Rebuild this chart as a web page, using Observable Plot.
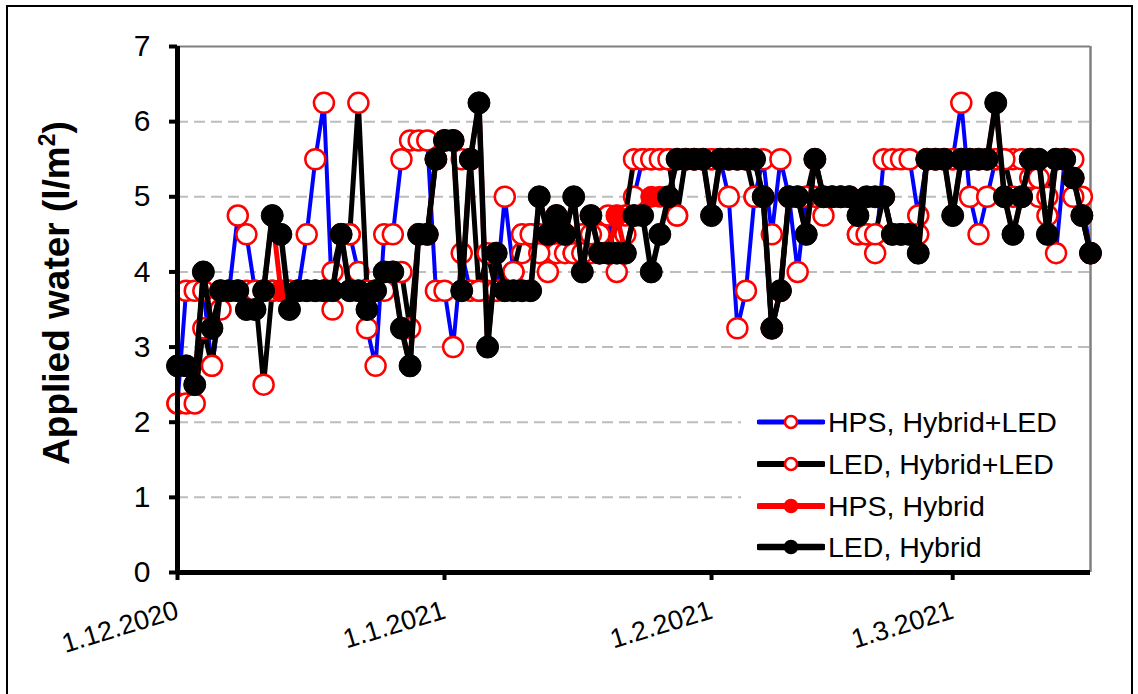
<!DOCTYPE html>
<html>
<head>
<meta charset="utf-8">
<script src="https://cdn.jsdelivr.net/npm/d3@7"></script>
<script src="https://cdn.jsdelivr.net/npm/@observablehq/plot@0.6"></script>
<style>
  body { margin: 0; padding: 0; background: #fff; font-family: "Liberation Sans", Arial, sans-serif; }
  .chart { position: relative; width: 1138px; height: 694px; overflow: hidden; }
  .outline { position: absolute; left: 6px; top: 5px; width: 1127px; height: 720px; border: 2px solid #000; box-sizing: border-box; pointer-events: none; }
  .ylabel { position: absolute; left: 56px; top: 293px; transform: translate(-50%, -50%) rotate(-90deg); white-space: nowrap; font-weight: bold; font-size: 37px; color: #000; }
  .ylabel sup { font-size: 23px; }
  .legend { position: absolute; left: 741px; top: 400px; width: 348px; height: 170px; background: #fff; }
  .legend .row { position: absolute; left: 16px; height: 34px; display: flex; align-items: center; font-size: 28.5px; color: #000; white-space: nowrap; }
  .legend svg { margin-right: 3px; }
</style>
</head>
<body>
<div class="chart" id="chart">
  <div class="outline"></div>
  <div class="ylabel">Applied water (l/m<sup>2</sup>)</div>
  <div class="legend" id="legend"></div>
</div>
<script>
  // daily irrigation, 1.12.2020 - 17.3.2021 (one value per day)
  const hpsHybridLed = [
    2.25, 3.75, 3.75, 3.75, 2.75, 3.5, 3.75, 4.75, 4.5, 3.75,
    3.75, 3.75, 3.75, 3.75, 3.75, 4.5, 5.5, 6.25, 3.5, 4.5,
    4.5, 4.0, 3.25, 2.75, 4.5, 4.5, 5.5, 5.75, 5.75, 5.75,
    3.75, 3.75, 3.0, 4.25, 3.75, 3.75, 3.75, 3.75, 5.0, 4.0,
    4.25, 4.5, 4.5, 4.0, 4.25, 4.25, 4.25, 4.5, 4.25, 4.5,
    4.75, 4.0, 4.5, 5.0, 5.5, 5.5, 5.5, 5.5, 4.75, 5.5,
    5.5, 5.5, 5.5, 5.5, 5.0, 3.25, 3.75, 5.0, 5.5, 4.5,
    5.5, 5.0, 4.0, 5.0, 5.0, 4.75, 5.0, 5.0, 5.0, 4.5,
    4.5, 4.25, 5.5, 5.5, 5.5, 5.5, 4.75, 5.5, 5.5, 5.5,
    5.5, 6.25, 5.0, 4.5, 5.0, 5.5, 5.5, 5.5, 5.5, 5.25,
    5.0, 4.75, 4.25, 5.5, 5.5, 5.0, 4.25
  ]
  const ledHybridLed = [
    2.25, 2.25, 2.25, 3.25, 2.75, 3.75, 3.75, 3.75, 3.75, 3.75,
    2.5, 3.75, 3.75, 3.75, 3.75, 3.75, 3.75, 3.75, 4.0, 4.5,
    4.5, 6.25, 3.75, 3.75, 3.75, 4.0, 4.0, 3.25, 4.5, 4.5,
    5.5, 5.75, 5.75, 5.5, 5.5, 3.75, 4.25, 3.75, 3.75, 4.0,
    4.5, 4.5, 4.25, 4.5, 4.75, 4.5, 4.25, 4.25, 4.5, 4.25,
    4.25, 4.75, 4.75, 5.5, 5.5, 5.5, 5.5, 5.5, 4.75, 5.5,
    5.5, 5.5, 5.5, 5.5, 5.5, 5.5, 5.5, 5.0, 5.0, 3.25,
    3.75, 5.0, 5.0, 5.0, 5.5, 5.0, 5.0, 5.0, 5.0, 4.5,
    4.5, 4.5, 5.0, 4.5, 4.5, 4.5, 4.5, 5.5, 5.5, 5.5,
    5.5, 5.5, 5.5, 5.5, 5.5, 5.5, 5.5, 5.0, 5.0, 5.5,
    5.25, 5.0, 5.5, 5.5, 5.0, 4.75, 4.25
  ]
  const hpsHybrid = [
    2.75, 2.75, 2.5, 4.0, 3.25, 3.75, 3.75, 3.75, 3.5, 3.5,
    3.75, 4.75, 3.75, 3.5, 3.75, 3.75, 3.75, 3.75, 3.75, 4.5,
    3.75, 3.75, 3.5, 3.75, 4.0, 4.0, 3.25, 2.75, 4.5, 4.5,
    5.5, 5.75, 5.75, 3.75, 5.5, 6.25, 3.0, 4.25, 3.75, 3.75,
    3.75, 3.75, 5.0, 4.5, 4.75, 4.5, 5.0, 4.0, 4.75, 4.25,
    4.25, 4.75, 4.25, 4.75, 4.75, 5.0, 5.0, 5.0, 5.5, 5.5,
    5.5, 5.5, 4.75, 5.5, 5.5, 5.5, 5.5, 5.5, 5.0, 3.25,
    3.75, 5.0, 5.0, 4.5, 5.5, 5.0, 5.0, 5.0, 5.0, 4.75,
    5.0, 5.0, 5.0, 4.5, 4.5, 4.5, 4.25, 5.5, 5.5, 5.5,
    4.75, 5.5, 5.5, 5.5, 5.5, 6.25, 5.0, 4.5, 5.0, 5.5,
    5.5, 4.5, 5.5, 5.5, 5.25, 4.75, 4.25
  ]
  const ledHybrid = [
    2.75, 2.75, 2.5, 4.0, 3.25, 3.75, 3.75, 3.75, 3.5, 3.5,
    3.75, 4.75, 4.5, 3.5, 3.75, 3.75, 3.75, 3.75, 3.75, 4.5,
    3.75, 3.75, 3.5, 3.75, 4.0, 4.0, 3.25, 2.75, 4.5, 4.5,
    5.5, 5.75, 5.75, 3.75, 5.5, 6.25, 3.0, 4.25, 3.75, 3.75,
    3.75, 3.75, 5.0, 4.5, 4.75, 4.5, 5.0, 4.0, 4.75, 4.25,
    4.25, 4.25, 4.25, 4.75, 4.75, 4.0, 4.5, 5.0, 5.5, 5.5,
    5.5, 5.5, 4.75, 5.5, 5.5, 5.5, 5.5, 5.5, 5.0, 3.25,
    3.75, 5.0, 5.0, 4.5, 5.5, 5.0, 5.0, 5.0, 5.0, 4.75,
    5.0, 5.0, 5.0, 4.5, 4.5, 4.5, 4.25, 5.5, 5.5, 5.5,
    4.75, 5.5, 5.5, 5.5, 5.5, 6.25, 5.0, 4.5, 5.0, 5.5,
    5.5, 4.5, 5.5, 5.5, 5.25, 4.75, 4.25
  ]

  const seriesNames = ["HPS, Hybrid+LED", "LED, Hybrid+LED", "HPS, Hybrid", "LED, Hybrid"]
  const monthTicks = ["2020-12-01", "2021-01-01", "2021-02-01", "2021-03-01"].map(d => new Date(d))
  const yTicks = [0, 1, 2, 3, 4, 5, 6, 7]
  const gridLines = [1, 2, 3, 4, 5, 6]

  const start = new Date("2020-12-01")
  const end = new Date("2021-03-17")
  const days = d3.utcDay.range(start, d3.utcDay.offset(end, 1))

  // how each series looks (line colour, marker)
  const looks = [
    {values: hpsHybridLed, line: "#0000ff", lw: 4, fill: "#ffffff", stroke: "#ff0000", r: 10, sw: 2.5, lr: 6},
    {values: ledHybridLed, line: "#000000", lw: 5, fill: "#ffffff", stroke: "#ff0000", r: 10, sw: 2.5, lr: 6},
    {values: hpsHybrid,    line: "#ff0000", lw: 5, fill: "#ff0000", stroke: "#ff0000", r: 10.5, sw: 1, lr: 6},
    {values: ledHybrid,    line: "#000000", lw: 5.5, fill: "#000000", stroke: "#000000", r: 11, sw: 1, lr: 6}
  ]

  const fmt = d => `${d.getUTCDate()}.${d.getUTCMonth() + 1}.${d.getUTCFullYear()}`

  let seriesMarks = []
  looks.forEach((s, k) => {
    let rows = days.map((d, i) => ({date: d, value: s.values[i], series: seriesNames[k]}))
    seriesMarks.push(Plot.line(rows, {x: "date", y: "value", stroke: s.line, strokeWidth: s.lw, strokeLinejoin: "round"}))
    seriesMarks.push(Plot.dot(rows, {x: "date", y: "value", r: s.r, fill: s.fill, stroke: s.stroke, strokeWidth: s.sw}))
  })

  const chart = Plot.plot({
    width: 1138,
    height: 694,
    marginLeft: 177,
    marginRight: 48,
    marginTop: 46,
    marginBottom: 122,
    style: {fontFamily: "Liberation Sans, Arial, sans-serif", background: "transparent", overflow: "visible"},
    x: {type: "utc", domain: [start, end]},
    y: {domain: [0, 7]},
    marks: [
      Plot.ruleY(gridLines, {stroke: "#bdbdbd", strokeWidth: 2, strokeDasharray: "11,6"}),
      Plot.ruleY([7], {stroke: "#808080", strokeWidth: 2}),
      Plot.ruleX([end], {stroke: "#808080", strokeWidth: 2.5}),
      ...seriesMarks,
      Plot.ruleX([start], {stroke: "#000", strokeWidth: 5}),
      Plot.ruleY([0], {stroke: "#000", strokeWidth: 5}),
      Plot.axisY({ticks: yTicks, tickFormat: d => String(d), tickSize: 8, tickPadding: 19, fontSize: 30, strokeWidth: 4, label: null}),
      Plot.axisX({ticks: monthTicks, tickFormat: fmt, tickSize: 8, tickPadding: 29, tickRotate: -17, fontSize: 27, strokeWidth: 4, label: null})
    ]
  })
  document.getElementById("chart").prepend(chart)

  // legend in the lower right corner of the plot area
  const legend = document.getElementById("legend")
  const rowTops = [5, 47, 89, 130]
  looks.forEach((s, k) => {
    let row = document.createElement("div")
    row.className = "row"
    row.style.top = rowTops[k] + "px"
    row.innerHTML = `<svg width="68" height="20"><line x1="2" x2="66" y1="10" y2="10" stroke="${s.line}" stroke-width="${s.lw + 1}" stroke-linecap="round"/>` +
      `<circle cx="34" cy="10" r="${s.lr}" fill="${s.fill}" stroke="${s.stroke}" stroke-width="2.5"/></svg><span>${seriesNames[k]}</span>`
    legend.appendChild(row)
  })
</script>
</body>
</html>
